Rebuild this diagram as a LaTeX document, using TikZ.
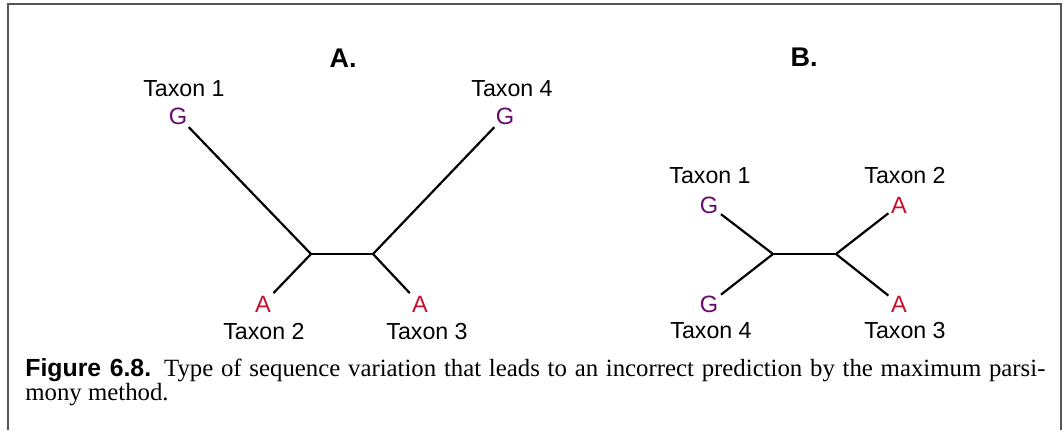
\documentclass[tikz,border=0pt]{standalone}
\usepackage{fontspec}
\setmainfont{Liberation Serif}
\setsansfont{Liberation Sans}
\usetikzlibrary{calc, positioning}

\begin{document}
\begin{tikzpicture}[x=0.5pt, y=-0.5pt,
    taxon/.style={font=\sffamily\fontsize{11.6}{13}\selectfont, anchor=base, inner sep=0pt},
    base/.style={font=\sffamily\fontsize{11.8}{13}\selectfont, inner sep=1.2pt},
    baseG/.style={base, text=gColour},
    baseA/.style={base, text=aColour},
    branch/.style={line width=1.1pt, black},
    panel/.style={font=\sffamily\bfseries\fontsize{13.5}{15}\selectfont}]

    % Define colours
    \definecolor{gColour}{HTML}{660A6E}
    \definecolor{aColour}{HTML}{C8102E}
    \definecolor{frameColour}{HTML}{555555}

    \useasboundingbox (0,0) rectangle (1063,430);

    % Draw frame
    \draw[frameColour, line width=0.8pt] (8,430) -- (8,4) -- (1061,4) -- (1061,430);

    % Tree A
    \node[panel] (titleA) at (343,58) {A.};
    \coordinate (nA1) at (311,254);
    \coordinate (nA2) at (373,254);

    \node[baseG] (A1) at (178,116) {G};
    \node[baseA] (A2) at (263,304) {A};
    \node[baseA] (A3) at (420,304) {A};
    \node[baseG] (A4) at (505,116) {G};

    \node[taxon] (tA1) at (184,96) {Taxon 1};
    \node[taxon] (tA2) at (264,339) {Taxon 2};
    \node[taxon] (tA3) at (427,339) {Taxon 3};
    \node[taxon] (tA4) at (512,96) {Taxon 4};

    \draw[branch] (A1) -- (nA1);
    \draw[branch] (A2) -- (nA1);
    \draw[branch] (nA1) -- (nA2);
    \draw[branch] (nA2) -- (A3);
    \draw[branch] (nA2) -- (A4);

    % Tree B
    \node[panel] (titleB) at (804,57) {B.};
    \coordinate (nB1) at (773,254);
    \coordinate (nB2) at (836,254);

    \node[baseG] (B1) at (709,205) {G};
    \node[baseA] (B2) at (899,205) {A};
    \node[baseA] (B3) at (899,304) {A};
    \node[baseG] (B4) at (709,304) {G};

    \node[taxon] (tB1) at (710,183) {Taxon 1};
    \node[taxon] (tB2) at (905,183) {Taxon 2};
    \node[taxon] (tB3) at (905,338) {Taxon 3};
    \node[taxon] (tB4) at (711,338) {Taxon 4};

    \draw[branch] (B1) -- (nB1);
    \draw[branch] (B4) -- (nB1);
    \draw[branch] (nB1) -- (nB2);
    \draw[branch] (nB2) -- (B2);
    \draw[branch] (nB2) -- (B3);

    % Caption
    \node[anchor=base west, inner sep=0pt, text width=510pt, align=justify,
          font=\fontsize{12.4}{12.3}\selectfont] (caption) at (25,376)
        {{\sffamily\bfseries Figure 6.8.} Type of sequence variation that leads to an incorrect prediction by the maximum parsi-\linebreak mony method.};

\end{tikzpicture}
\end{document}
